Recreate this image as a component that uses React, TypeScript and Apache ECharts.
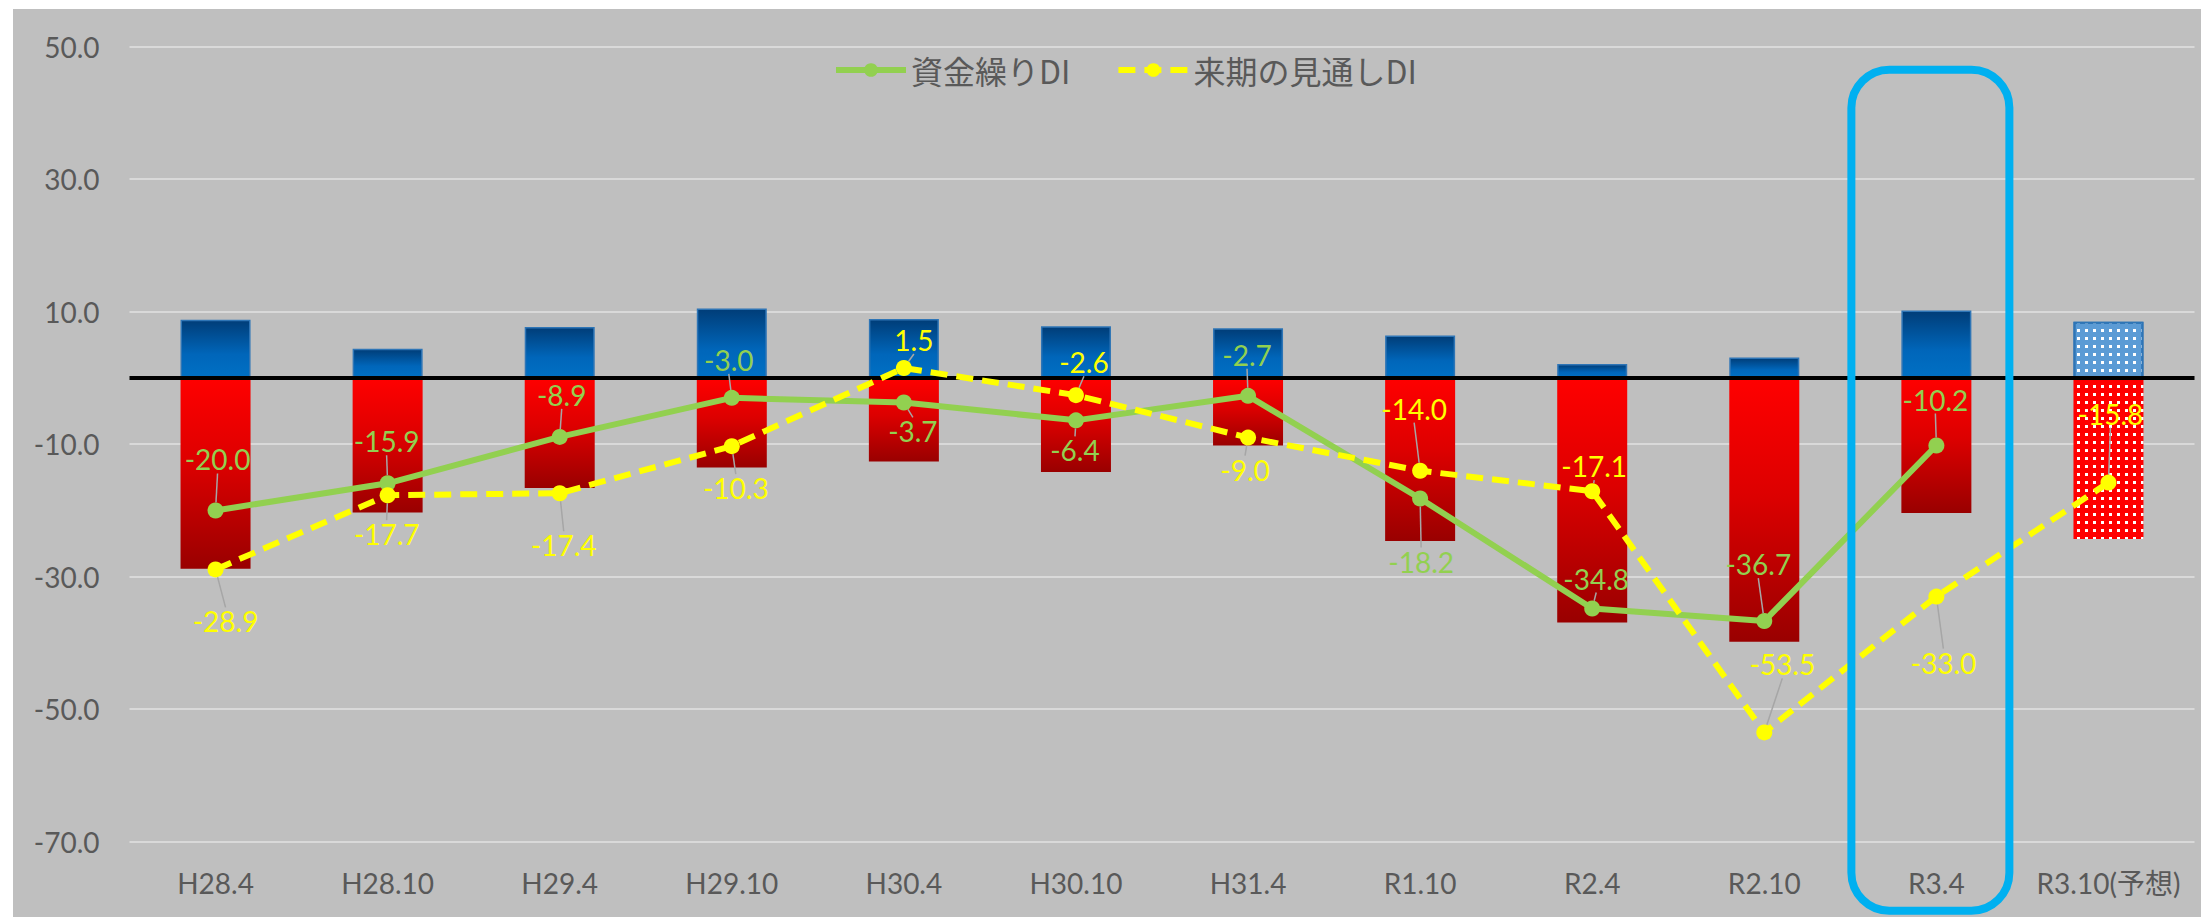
import React, { useEffect, useRef } from "react";
import * as echarts from "echarts";

// Survey periods (last one is a forecast)
const categories = [
  "H28.4", "H28.10", "H29.4", "H29.10", "H30.4", "H30.10",
  "H31.4", "R1.10", "R2.4", "R2.10", "R3.4", "R3.10(予想)",
];

// Share of "improved" answers (%)
const improvedShare = [8.8, 4.4, 7.7, 10.5, 8.9, 7.8, 7.5, 6.4, 2.1, 3.1, 10.2, 8.5];
// Share of "worsened" answers (%), drawn below zero
const worsenedShare = [-28.8, -20.3, -16.6, -13.5, -12.6, -14.2, -10.2, -24.6, -36.9, -39.8, -20.4, -24.3];

// 資金繰りDI (no value for the forecast period)
const fundingDI: (number | null)[] = [-20.0, -15.9, -8.9, -3.0, -3.7, -6.4, -2.7, -18.2, -34.8, -36.7, -10.2, null];
// 来期の見通しDI
const outlookDI = [-28.9, -17.7, -17.4, -10.3, 1.5, -2.6, -9.0, -14.0, -17.1, -53.5, -33.0, -15.8];

// Value axis range and step
const yMin = -70;
const yMax = 50;
const yStep = 20;

// Highlighted period
const highlightCategory = "R3.4";
const forecastIndex = 11;

// Label placement relative to each point [dx, dy] in px
const fundingLabelOffset = [
  [2, -51], [-1, -42], [2, -42], [-3, -38], [9, 29], [-1, 30],
  [-1, -41], [1, 63], [4, -30], [-6, -57], [-1, -46], [0, 0],
];
const outlookLabelOffset = [
  [10, 52], [-1, 39], [4, 52], [4, 42], [10, -28], [8, -33],
  [-3, 32], [-6, -62], [2, -25], [18, -68], [7, 66], [2, -69],
];

const FONT = 'Lato, "Noto Sans CJK JP", sans-serif';
const AXIS_TEXT = "#595959";
const GREEN = "#92d050";
const YELLOW = "#ffff00";

const blueGradient = new echarts.graphic.LinearGradient(0, 0, 0, 1, [
  { offset: 0, color: "#003d78" },
  { offset: 0.6, color: "#0066ba" },
  { offset: 1, color: "#0070c4" },
]);
const redGradient = new echarts.graphic.LinearGradient(0, 0, 0, 1, [
  { offset: 0, color: "#ff0000" },
  { offset: 0.45, color: "#dc0000" },
  { offset: 1, color: "#990000" },
]);

const dotDecal = {
  symbol: "rect",
  symbolSize: 1,
  color: "#ffffff",
  dashArrayX: [2.5, 5],
  dashArrayY: [2.5, 5],
  rotation: 0,
};

function labelPlacer(offsets: number[][]) {
  return (params: any) => {
    const r = params.rect;
    const off = offsets[params.dataIndex] || [0, 0];
    return {
      x: r.x + r.width / 2 + off[0],
      y: r.y + r.height / 2 + off[1],
      align: "center",
      verticalAlign: "middle",
    };
  };
}

export default function App() {
  const ref = useRef<HTMLDivElement>(null);

  useEffect(() => {
    if (!ref.current) return;
    const chart = echarts.init(ref.current, undefined, { renderer: "svg" });

    const improvedData = improvedShare.map((v, i) =>
      i === forecastIndex
        ? { value: v, itemStyle: { color: "#5b9bd5", borderColor: "#2e75b6", borderWidth: 2, decal: dotDecal } }
        : v
    );
    const worsenedData = worsenedShare.map((v, i) =>
      i === forecastIndex
        ? { value: v, itemStyle: { color: "#ff0000", decal: dotDecal } }
        : v
    );

    const labelCommon = {
      show: true,
      fontFamily: FONT,
      fontSize: 28,
      formatter: (p: any) => Number(p.value).toFixed(1),
    };
    const guide = {
      show: true,
      lineStyle: { color: "#a6a6a6", width: 1.5 },
    };

    chart.setOption({
      animation: false,
      backgroundColor: "#bfbfbf",
      textStyle: { fontFamily: FONT },
      legend: {
        left: 820,
        top: 45,
        padding: 0,
        itemWidth: 70,
        itemHeight: 17,
        itemGap: 45,
        lineStyle: { width: 6 },
        textStyle: { color: AXIS_TEXT, fontSize: 32, fontFamily: '"Noto Sans CJK JP", sans-serif' },
        data: ["資金繰りDI", "来期の見通しDI"],
      },
      grid: {
        left: 116.5,
        right: 6.5,
        top: 37.7,
        bottom: 75.3,
        outerBoundsMode: "none",
      },
      xAxis: {
        type: "category",
        data: categories,
        axisLine: { show: false },
        axisTick: { show: false },
        axisLabel: { color: AXIS_TEXT, fontSize: 28, fontFamily: FONT, margin: 27, interval: 0 },
      },
      yAxis: {
        type: "value",
        min: yMin,
        max: yMax,
        interval: yStep,
        axisLine: { show: false },
        axisTick: { show: false },
        axisLabel: {
          color: AXIS_TEXT,
          fontSize: 28,
          fontFamily: FONT,
          margin: 30,
          formatter: (v: number) => v.toFixed(1),
        },
        splitLine: { lineStyle: { color: "#d9d9d9", width: 2 } },
      },
      series: [
        {
          name: "好転",
          type: "bar",
          data: improvedData,
          barWidth: 70,
          barGap: "-100%",
          itemStyle: { color: blueGradient, borderColor: "#2e75b6", borderWidth: 1.5 },
          emphasis: { disabled: true },
          z: 2,
        },
        {
          name: "悪化",
          type: "bar",
          data: worsenedData,
          barWidth: 70,
          barGap: "-100%",
          itemStyle: { color: redGradient },
          emphasis: { disabled: true },
          z: 2,
          markLine: {
            silent: true,
            symbol: ["none", "none"],
            label: { show: false },
            lineStyle: { color: "#000000", width: 4, type: "solid" },
            data: [{ yAxis: 0 }],
            z: 3,
          },
        },
        {
          name: "資金繰りDI",
          type: "line",
          data: fundingDI,
          color: GREEN,
          symbol: "circle",
          symbolSize: 16,
          lineStyle: { color: GREEN, width: 6 },
          itemStyle: { color: GREEN },
          label: { ...labelCommon, color: GREEN },
          labelLine: guide,
          labelLayout: labelPlacer(fundingLabelOffset),
          emphasis: { disabled: true },
          z: 5,
        },
        {
          name: "来期の見通しDI",
          type: "line",
          data: outlookDI,
          color: YELLOW,
          symbol: "circle",
          symbolSize: 16,
          lineStyle: { color: YELLOW, width: 6, type: [17, 9] },
          itemStyle: { color: YELLOW },
          label: { ...labelCommon, color: YELLOW },
          labelLine: guide,
          labelLayout: labelPlacer(outlookLabelOffset),
          emphasis: { disabled: true },
          z: 6,
        },
      ],
    });

    // Rounded frame around the highlighted period
    const cx = chart.convertToPixel({ xAxisIndex: 0 }, highlightCategory) as number;
    const yTop = chart.convertToPixel({ yAxisIndex: 0 }, yMax) as number;
    const yBottom = chart.convertToPixel({ yAxisIndex: 0 }, yMin) as number;
    const boxW = 158;
    const boxX = cx - 6 - boxW / 2;
    const boxY = yTop + 23;
    const boxH = yBottom + 69 - boxY;
    chart.setOption({
      graphic: [
        {
          type: "rect",
          z: 100,
          silent: true,
          shape: { x: boxX, y: boxY, width: boxW, height: boxH, r: 38 },
          style: { fill: "none", stroke: "#00b0f0", lineWidth: 8 },
        },
      ],
    });

    return () => chart.dispose();
  }, []);

  return (
    <div
      ref={ref}
      style={{ position: "absolute", left: 13, top: 9, width: 2188, height: 908 }}
    />
  );
}
